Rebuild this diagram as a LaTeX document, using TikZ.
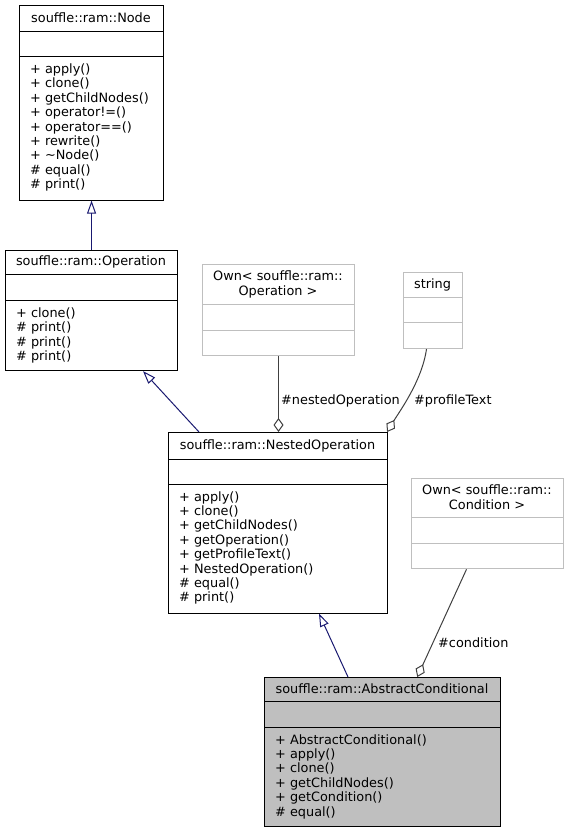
\documentclass[tikz,border=0pt]{standalone}
\usepackage{fontspec}
\setmainfont{DejaVu Sans}
\usetikzlibrary{arrows.meta,calc}
\definecolor{edgeblue}{HTML}{191970}
\definecolor{boxgray}{HTML}{BFBFBF}
\definecolor{agggray}{HTML}{404040}
\newcommand{\fstrut}{\rule{0pt}{10pt}}
\begin{document}
\begin{tikzpicture}[x=1pt,y=-1pt,
  txt/.style={font=\fontsize{12.85}{14.4}\selectfont, inner sep=0pt, text=black},
  cls/.style={draw=black, fill=white, line width=1.1pt, inner sep=0pt, anchor=north west},
  gcls/.style={draw=boxgray, fill=white, line width=1pt, inner sep=0pt, anchor=north west},
  hcls/.style={draw=black, fill=boxgray, line width=1.1pt, inner sep=0pt, anchor=north west},
  sepline/.style={draw=black, line width=1.1pt},
  gsepline/.style={draw=boxgray, line width=1pt},
  title/.style={txt, anchor=north, align=center},
  members/.style={txt, anchor=north west, align=left},
  elabel/.style={txt, anchor=base west},
  inh/.style={draw=edgeblue, line width=1pt, -{Triangle[open, length=13pt, width=9pt]}},
  agg/.style={draw=agggray, line width=1pt, -{Diamond[open, length=14pt, width=10pt]}}
]
\useasboundingbox (0,0) rectangle (569,832);

% souffle::ram::Node
\node[cls, minimum width=144pt, minimum height=194.5pt] (nd) at (19,5) {};
\draw[sepline] (19,31.7) -- (163,31.7);
\draw[sepline] (19,56.7) -- (163,56.7);
\node[title] (nd-t) at (91,11.85) {\fstrut souffle::ram::Node};
\node[members] (nd-m) at (30,63.2) {\fstrut + apply()\\+ clone()\\+ getChildNodes()\\+ operator!=()\\+ operator==()\\+ rewrite()\\+ \textasciitilde Node()\\\# equal()\\\# print()};

% souffle::ram::Operation
\node[cls, minimum width=172pt, minimum height=120pt] (op) at (5,250) {};
\draw[sepline] (5,274.3) -- (177,274.3);
\draw[sepline] (5,300.7) -- (177,300.7);
\node[title] (op-t) at (91,255.65) {\fstrut souffle::ram::Operation};
\node[members] (op-m) at (16,307.2) {\fstrut + clone()\\\# print()\\\# print()\\\# print()};

% Own< souffle::ram::Operation >
\node[gcls, minimum width=152pt, minimum height=91pt] (ownop) at (202,264) {};
\draw[gsepline] (202,304.3) -- (354,304.3);
\draw[gsepline] (202,330) -- (354,330);
\node[title] (ownop-t) at (278,270.5) {\fstrut Own< souffle::ram::\\Operation >};

% string
\node[gcls, minimum width=59pt, minimum height=76pt] (str) at (403,272) {};
\draw[gsepline] (403,297.3) -- (462,297.3);
\draw[gsepline] (403,322.3) -- (462,322.3);
\node[title] (str-t) at (432.5,278.15) {\fstrut string};

% souffle::ram::NestedOperation
\node[cls, minimum width=219pt, minimum height=180.5pt] (nop) at (168,432) {};
\draw[sepline] (168,459.3) -- (387,459.3);
\draw[sepline] (168,484.3) -- (387,484.3);
\node[title] (nop-t) at (277.5,439.15) {\fstrut souffle::ram::NestedOperation};
\node[members] (nop-m) at (179,490.8) {\fstrut + apply()\\+ clone()\\+ getChildNodes()\\+ getOperation()\\+ getProfileText()\\+ NestedOperation()\\\# equal()\\\# print()};

% Own< souffle::ram::Condition >
\node[gcls, minimum width=152pt, minimum height=90.3pt] (owncond) at (411,478) {};
\draw[gsepline] (411,517.7) -- (563,517.7);
\draw[gsepline] (411,543.3) -- (563,543.3);
\node[title] (owncond-t) at (487,484.5) {\fstrut Own< souffle::ram::\\Condition >};

% souffle::ram::AbstractConditional
\node[hcls, minimum width=236pt, minimum height=149pt] (ac) at (264,677) {};
\draw[sepline] (264,701.7) -- (500,701.7);
\draw[sepline] (264,727.3) -- (500,727.3);
\node[title] (ac-t) at (382,682.85) {\fstrut souffle::ram::AbstractConditional};
\node[members] (ac-m) at (275,733.8) {\fstrut + AbstractConditional()\\+ apply()\\+ clone()\\+ getChildNodes()\\+ getCondition()\\\# equal()};

% inheritance
\draw[inh] (op.north) -- (nd.south);
\draw[inh] ($(nop.north west)+(31,0)$) -- ($(op.south west)+(138,0)$);
\draw[inh] ($(ac.north west)+(84,0)$) -- ($(nop.south west)+(151,0)$);

% aggregation
\draw[agg] (ownop.south) -- (ownop.south |- nop.north);
\draw[agg] ($(str.south)+(-6.5,0)$) .. controls ($(str.south)+(-11,32)$) and ($(nop.north east)+(11,-20)$) .. ($(nop.north east)+(-1,0)$);
\draw[agg] ($(owncond.south)+(-21,0)$) -- ($(ac.north)+(34.7,0)$);

% labels
\node[elabel] (l-nested) at (281,404) {\#nestedOperation};
\node[elabel] (l-profile) at (414,404) {\#profileText};
\node[elabel] (l-cond) at (438,647) {\#condition};
\end{tikzpicture}
\end{document}
